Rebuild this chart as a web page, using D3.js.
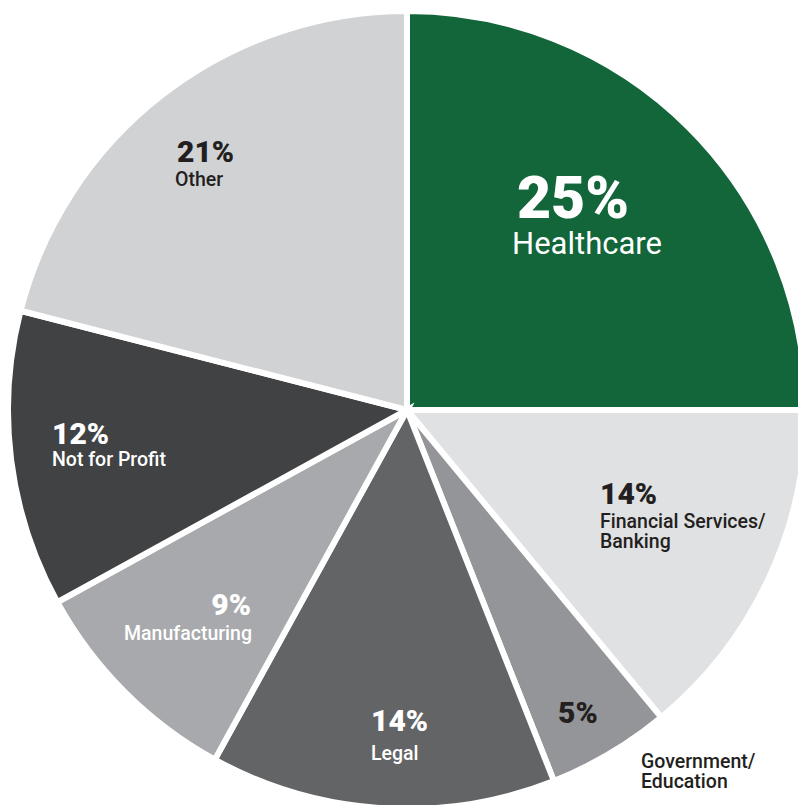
<!DOCTYPE html>
<html><head><meta charset="utf-8">
<script src="https://cdn.jsdelivr.net/npm/d3@7"></script>
<style>html,body{margin:0;padding:0;background:#fff;overflow:hidden}svg{display:block}text{font-family:Roboto,"Noto Sans",sans-serif}</style>
</head><body>
<script>
const categories = ["Healthcare","Financial Services/\nBanking","Government/\nEducation","Legal","Manufacturing","Not for Profit","Other"];
const values = [25,14,5,14,9,12,21];
const colors = ["#12663a","#e0e1e3","#939598","#636466","#a7a9ac","#414243","#d1d2d4"];

const W=798,H=805, cx=407, cy=410, R=399;
const svg=d3.select("body").append("svg").attr("width",W).attr("height",H);
const g=svg.append("g").attr("transform",`translate(${cx},${cy})`);
const pie=d3.pie().sort(null).value(d=>d)(values);
const arc=d3.arc().innerRadius(0).outerRadius(R);
g.selectAll("path").data(pie).enter().append("path")
  .attr("d",arc).attr("fill",(d,i)=>colors[i])
  .attr("stroke","#fff").attr("stroke-width",6).attr("stroke-linejoin","miter");

// label layout (pixel positions, anchor, sizes, colour)
const layout=[
 {x:573,y:218,a:"middle",ps:59,ls:31,lw:400,lx:587,ly:254,c:"#fff"},
 {x:600,y:504,a:"start",ps:30,ls:19.5,lw:500,lx:600,ly:528,c:"#231f20"},
 {x:558,y:723,a:"start",ps:30,ls:19.5,lw:500,lx:641,ly:768,c:"#231f20"},
 {x:371,y:731,a:"start",ps:30,ls:19.5,lw:500,lx:371,ly:760,c:"#fff"},
 {x:251,y:615,a:"end",ps:30,ls:19.5,lw:500,lx:252,ly:640,c:"#fff"},
 {x:52,y:444,a:"start",ps:30,ls:19.5,lw:500,lx:52,ly:466,c:"#fff"},
 {x:177,y:162,a:"start",ps:30,ls:19.5,lw:500,lx:175,ly:186,c:"#231f20"}
];
pie.forEach((d,i)=>{
  const L=layout[i];
  g.append("text").attr("x",L.x-cx).attr("y",L.y-cy).attr("text-anchor",L.a)
   .attr("font-weight",900).attr("font-size",L.ps).attr("fill",L.c).text(values[i]+"%");
  const lines=categories[i].split("\n");
  lines.forEach((ln,j)=>{
    g.append("text").attr("x",L.lx-cx).attr("y",L.ly-cy+j*20).attr("text-anchor",i===0?"middle":L.a)
     .attr("font-size",L.ls).attr("font-weight",L.lw).attr("fill",i===2?"#231f20":L.c).text(ln);
  });
});
</script>
</body></html>
